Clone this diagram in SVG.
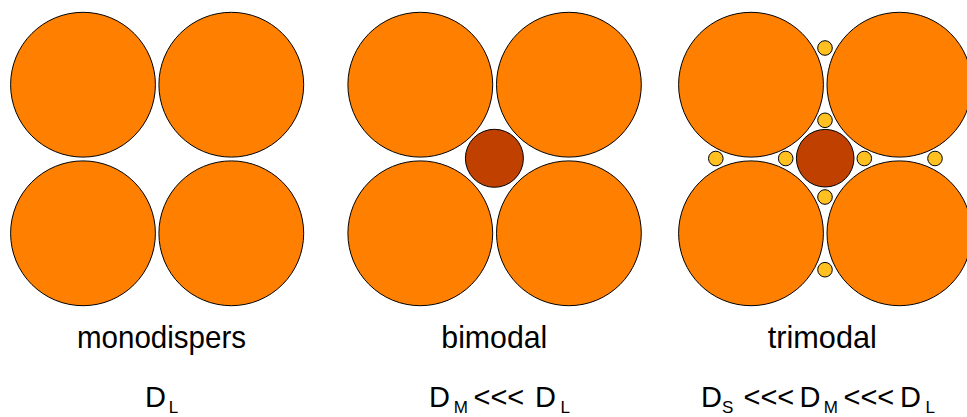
<svg xmlns="http://www.w3.org/2000/svg" width="967" height="417" viewBox="0 0 967 417">
  <style>
    .L { fill: #FF8000; stroke: #000; stroke-width: 1; }
    .M { fill: #C04000; stroke: #000; stroke-width: 1; }
    .S { fill: #FFC020; stroke: #000; stroke-width: 1; }
    .t1 { font-family: "Liberation Sans", Arial, sans-serif; font-size: 32px; fill: #000; text-anchor: middle; }
    .t2 { font-family: "Liberation Sans", Arial, sans-serif; font-size: 29px; fill: #000; }
    .sub { font-size: 17px; }
  </style>
  <rect width="967" height="417" fill="#fff"/>

  <g id="monodispers">
    <circle class="L" cx="83" cy="84.7" r="72.4"/>
    <circle class="L" cx="231.3" cy="84.7" r="72.4"/>
    <circle class="L" cx="83" cy="233.3" r="72.4"/>
    <circle class="L" cx="231.3" cy="233.3" r="72.4"/>
  </g>

  <g id="bimodal">
    <circle class="L" cx="420.3" cy="84.7" r="72.4"/>
    <circle class="L" cx="568.9" cy="84.7" r="72.4"/>
    <circle class="L" cx="420.3" cy="233.3" r="72.4"/>
    <circle class="L" cx="568.9" cy="233.3" r="72.4"/>
    <circle class="M" cx="494.4" cy="158.3" r="29"/>
  </g>

  <g id="trimodal">
    <circle class="L" cx="751" cy="84.7" r="72.4"/>
    <circle class="L" cx="899.4" cy="84.7" r="72.4"/>
    <circle class="L" cx="751" cy="233.3" r="72.4"/>
    <circle class="L" cx="899.4" cy="233.3" r="72.4"/>
    <circle class="M" cx="825.2" cy="158.2" r="28.8"/>
    <circle class="S" cx="825" cy="48" r="7.3"/>
    <circle class="S" cx="825" cy="120.3" r="7.3"/>
    <circle class="S" cx="715.8" cy="158.5" r="7.3"/>
    <circle class="S" cx="785.7" cy="158.5" r="7.3"/>
    <circle class="S" cx="864.3" cy="158.5" r="7.3"/>
    <circle class="S" cx="935" cy="158.5" r="7.3"/>
    <circle class="S" cx="825" cy="197" r="7.3"/>
    <circle class="S" cx="825" cy="269.7" r="7.3"/>
  </g>

  <g id="labels">
    <text class="t1" x="161.5" y="348.3" textLength="169" lengthAdjust="spacingAndGlyphs">monodispers</text>
    <text class="t1" x="494.3" y="348.3" textLength="106" lengthAdjust="spacingAndGlyphs">bimodal</text>
    <text class="t1" x="822.3" y="348.3" textLength="109" lengthAdjust="spacingAndGlyphs">trimodal</text>

    <text class="t2" y="407"><tspan x="145">D</tspan><tspan class="sub" x="168.8" y="413">L</tspan></text>

    <text class="t2" y="407"><tspan x="429">D</tspan><tspan class="sub" x="453.7" y="413">M</tspan><tspan x="473.5" y="407">&lt;&lt;&lt;</tspan><tspan x="535" y="407">D</tspan><tspan class="sub" x="560.5" y="413">L</tspan></text>

    <text class="t2" y="407"><tspan x="701">D</tspan><tspan class="sub" x="722" y="413">S</tspan><tspan x="743.5" y="407">&lt;&lt;&lt;</tspan><tspan x="799.5" y="407">D</tspan><tspan class="sub" x="823.7" y="413">M</tspan><tspan x="843.5" y="407">&lt;&lt;&lt;</tspan><tspan x="900" y="407">D</tspan><tspan class="sub" x="925.5" y="413">L</tspan></text>
  </g>
</svg>
